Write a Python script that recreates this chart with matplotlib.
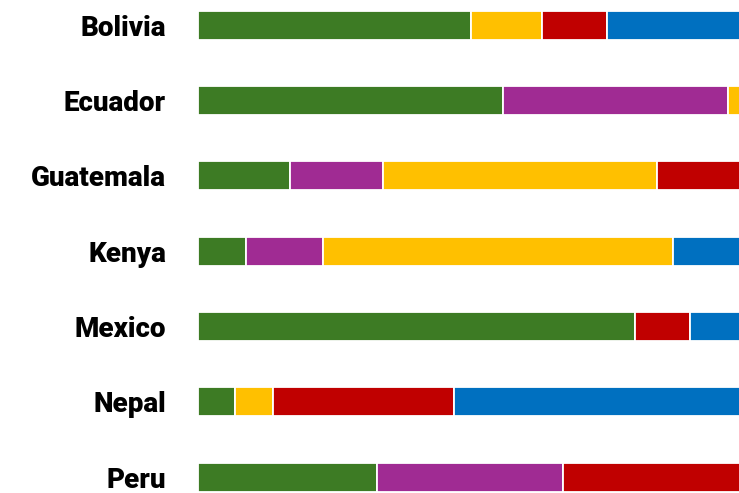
import numpy as np
import matplotlib.pyplot as plt

countries = ['Bolivia', 'Ecuador', 'Guatemala', 'Kenya', 'Mexico', 'Nepal', 'Peru']

# segment widths per country (the rightmost segment runs off the chart)
green = [273, 305, 92, 48, 437, 37, 179]
purple = [0, 225, 93, 77, 0, 0, 186]
yellow = [71, 40, 274, 350, 0, 38, 0]
red = [65, 0, 120, 0, 55, 181, 200]
blue = [200, 0, 0, 100, 100, 300, 0]

series = [green, purple, yellow, red, blue]
colors = ['#3d7b24', '#a02b93', '#ffc000', '#c00000', '#0070c0']

fig = plt.figure(figsize=(7.39, 4.93), dpi=100)
ax = fig.add_axes([198 / 739, 0, 1 - 198 / 739, 1])

y = np.arange(len(countries))
left = np.zeros(len(countries))
for vals, col in zip(series, colors):
    vals = np.array(vals, dtype=float)
    ax.barh(y, vals, left=left, height=0.385, color=col,
            edgecolor='white', linewidth=1.3)
    left += vals

ax.set_xlim(0, 541)
ax.set_ylim(6.212, -0.332)
ax.set_yticks(y)
ax.set_yticklabels(countries, fontfamily='Roboto', fontweight='black', fontsize=20)
ax.tick_params(axis='y', length=0, pad=23)
ax.set_xticks([])
for s in ax.spines.values():
    s.set_visible(False)

plt.savefig('out.png', dpi=100)
